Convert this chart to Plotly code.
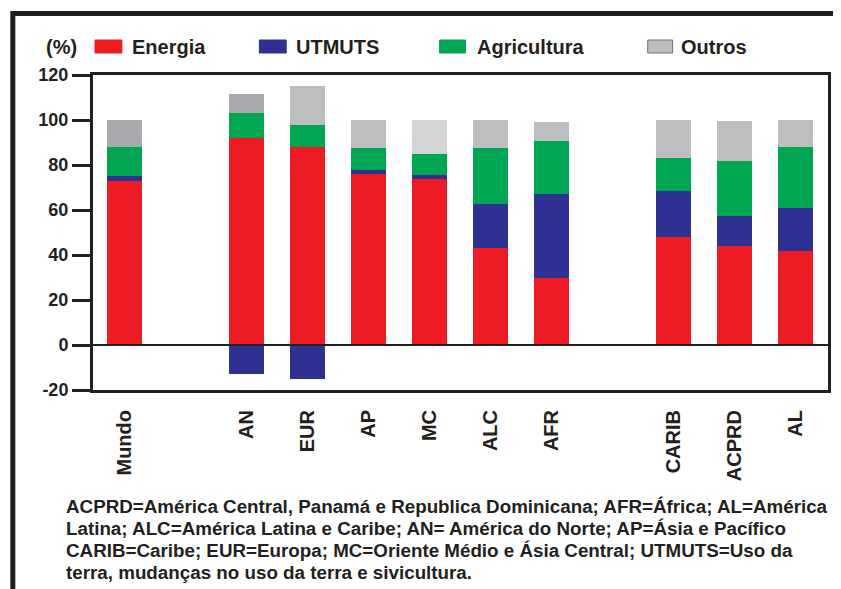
import plotly.graph_objects as go

# ---- data ----
regions = ["Mundo", "AN", "EUR", "AP", "MC", "ALC", "AFR", "CARIB", "ACPRD", "AL"]
group_of = [0, 1, 1, 1, 1, 1, 1, 2, 2, 2]   # visual groups (gap between groups)
energia = [73, 92, 88, 76, 74, 43, 30, 48, 44, 42]
utmuts = [2, -13, -15, 2, 1.5, 19.5, 37, 20.5, 13.5, 19]
agricultura = [13, 11, 10, 9.5, 9.5, 25, 23.5, 14.5, 24.5, 27]
outros = [12, 8.5, 17, 12.5, 15, 12.5, 8.5, 17, 17.5, 12]
series_names = ["Energia", "UTMUTS", "Agricultura", "Outros"]
y_ticks = [-20, 0, 20, 40, 60, 80, 100, 120]
y_ticktext = ["-20", "0", "20", "40", "60", "80", "100", "120"]
caption_lines = [
    "ACPRD=América Central, Panamá e Republica Dominicana; AFR=África; AL=América",
    "Latina; ALC=América Latina e Caribe; AN= América do Norte; AP=Ásia e Pacífico",
    "CARIB=Caribe; EUR=Europa; MC=Oriente Médio e Ásia Central; UTMUTS=Uso da",
    "terra, mudanças no uso da terra e sivicultura.",
]

# ---- styles ----
RED, BLUE, GREEN = "#ed1c24", "#2e3192", "#00a651"
outros_colors = ["#a7a9ac", "#a7a9ac", "#bcbec0", "#bcbec0", "#d4d5d7",
                 "#bcbec0", "#bcbec0", "#bcbec0", "#bcbec0", "#bcbec0"]
INK = "#231f20"
FONT = "Liberation Sans"

xpos = [i + g for i, g in enumerate(group_of)]

OFF = 8                      # page body margin
W, H = 841 - OFF, 589 - OFF
L, R, T, B = 93 - OFF, 10, 75 - OFF, 589 - 390
PW, PH = W - L - R, H - T - B


def px(x):  # page pixel -> paper
    return (x - OFF - L) / PW


def py(y):
    return (H - B - (y - OFF)) / PH


fig = go.Figure()
for name, vals, col in zip(series_names,
                           [energia, utmuts, agricultura, outros],
                           [RED, BLUE, GREEN, outros_colors]):
    fig.add_trace(go.Bar(x=xpos, y=vals, name=name, width=0.57,
                         marker=dict(color=col, line=dict(width=0)),
                         showlegend=False))

shapes = []
# zero line
shapes.append(dict(type="line", xref="paper", yref="y", x0=0, x1=1, y0=0, y1=0,
                   line=dict(color=INK, width=2)))
# outer frame (top & left)
shapes.append(dict(type="line", xref="paper", yref="paper",
                   x0=px(12.5), x1=px(850), y0=py(13.5), y1=py(13.5),
                   line=dict(color=INK, width=5)))
shapes.append(dict(type="line", xref="paper", yref="paper",
                   x0=px(12.5), x1=px(12.5), y0=py(11), y1=py(600),
                   line=dict(color=INK, width=5)))

# legend swatches and labels
leg_sw = [(95, 122), (260, 287), (441, 467), (650, 675)]
leg_tx = [130, 295, 477, 681]
leg_cols = [RED, BLUE, GREEN, "#bcbec0"]
annotations = []
for (x0, x1), tx, col, nm in zip(leg_sw, leg_tx, leg_cols, series_names):
    shapes.append(dict(type="rect", xref="paper", yref="paper",
                       x0=px(x0), x1=px(x1), y0=py(40), y1=py(53),
                       fillcolor=col,
                       line=dict(color="#6d6e71" if nm == "Outros" else col, width=1)))
    annotations.append(dict(xref="paper", yref="paper", x=px(tx), y=py(47),
                            xanchor="left", yanchor="middle", text=nm, showarrow=False,
                            font=dict(family=FONT, size=20, color=INK, weight="bold")))
annotations.append(dict(xref="paper", yref="paper", x=px(44), y=py(47),
                        xanchor="left", yanchor="middle", text="(%)", showarrow=False,
                        font=dict(family=FONT, size=20, color=INK, weight="bold")))
for k, line in enumerate(caption_lines):
    annotations.append(dict(xref="paper", yref="paper", x=px(64), y=py(506 + 22 * k),
                            xanchor="left", yanchor="middle", text=line, showarrow=False,
                            font=dict(family=FONT, size=18.8, color=INK, weight="bold")))

fig.update_layout(
    width=W, height=H,
    margin=dict(l=L, r=R, t=T, b=B, pad=0),
    paper_bgcolor="white", plot_bgcolor="white",
    barmode="relative", bargap=0,
    shapes=shapes, annotations=annotations,
    xaxis=dict(range=[-0.514, 11.539], tickmode="array", tickvals=xpos, ticktext=regions,
               tickangle=-90, ticks="", showgrid=False, zeroline=False,
               showline=True, mirror=True, linecolor=INK, linewidth=3,
               ticklabelstandoff=9,
               tickfont=dict(family=FONT, size=20, color=INK, weight="bold")),
    yaxis=dict(range=[-20, 120], tickmode="array", tickvals=y_ticks, ticktext=y_ticktext,
               ticks="outside", ticklen=18, tickwidth=2.5, tickcolor=INK,
               showgrid=False, zeroline=False,
               showline=True, mirror=True, linecolor=INK, linewidth=3,
               tickfont=dict(family=FONT, size=18, color=INK, weight="bold")),
)

fig.write_html("out.html")
